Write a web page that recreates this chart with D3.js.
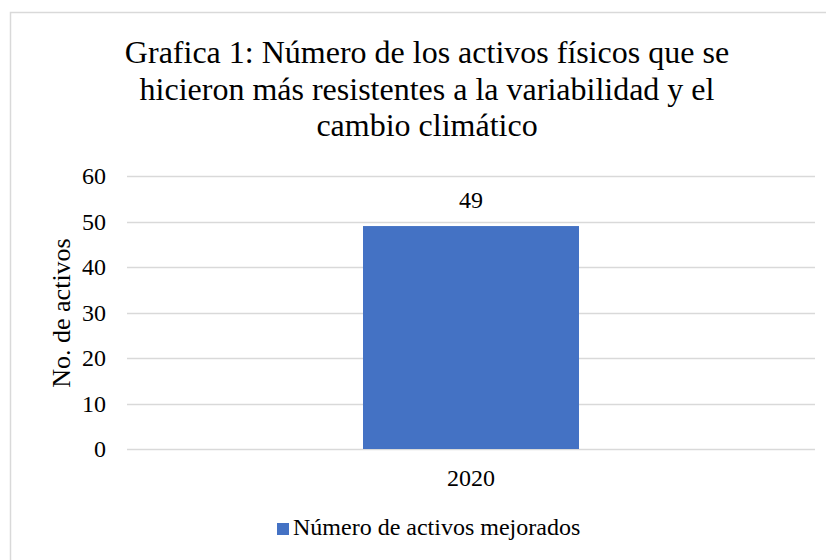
<!DOCTYPE html>
<html><head><meta charset="utf-8">
<script src="https://cdn.jsdelivr.net/npm/d3@7"></script>
<style>
html,body{margin:0;padding:0;background:#fff;}
</style></head>
<body>
<script>
const categories = ["2020"];
const seriesName = "Número de activos mejorados";
const values = [49];
const yTicks = [0, 10, 20, 30, 40, 50, 60];
const titleLines = ["Grafica 1: Número de los activos físicos que se",
  "hicieron más resistentes a la variabilidad y el",
  "cambio climático"];
const yTitle = "No. de activos";

const FONT = "'Liberation Serif', 'Times New Roman', Tinos, 'DejaVu Serif', serif";
const W = 826, H = 560;
const svg = d3.select("body").append("svg").attr("width", W).attr("height", H)
  .attr("font-family", FONT);

// chart border
svg.append("rect").attr("x", 10.5).attr("y", 12.5).attr("width", 830).attr("height", 560)
  .attr("fill", "none").attr("stroke", "#d9d9d9").attr("stroke-width", 1.5);

// title
svg.append("g").selectAll("text").data(titleLines).join("text")
  .attr("x", 427).attr("y", (d, i) => 63 + i * 36.5)
  .attr("text-anchor", "middle").style("font-family", FONT).style("font-size", "32px").text(d => d);

const plot = {left: 127, right: 815, top: 176, bottom: 449};
const x = d3.scaleBand().domain(categories).range([plot.left, plot.right]).paddingInner(0).paddingOuter(0);
const y = d3.scaleLinear().domain([0, 60]).range([plot.bottom, plot.top]);

// gridlines
svg.append("g").selectAll("line").data(yTicks).join("line")
  .attr("x1", plot.left).attr("x2", plot.right)
  .attr("y1", d => Math.round(y(d)) + 0.5).attr("y2", d => Math.round(y(d)) + 0.5)
  .attr("stroke", "#d9d9d9").attr("stroke-width", 1.5);

// y axis labels
const yAxis = d3.axisLeft(y).tickValues(yTicks).tickSize(0).tickPadding(0);
const yg = svg.append("g").attr("transform", `translate(106,0)`).call(yAxis);
yg.attr("font-family", FONT);
yg.select(".domain").remove();
yg.selectAll("text").style("font-family", FONT).style("font-size", "24px").attr("dy", "0.32em").attr("fill", "#000");

// x axis labels
const xAxis = d3.axisBottom(x).tickSize(0).tickPadding(0);
const xg = svg.append("g").attr("transform", `translate(0,${plot.bottom})`).call(xAxis);
xg.attr("font-family", FONT);
xg.select(".domain").remove();
xg.selectAll("text").style("font-family", FONT).style("font-size", "24px").attr("y", 37).attr("dy", 0).attr("fill", "#000");

// bars
const barW = 216;
svg.append("g").selectAll("rect").data(values).join("rect")
  .attr("x", (d, i) => x(categories[i]) + x.bandwidth() / 2 - barW / 2)
  .attr("width", barW)
  .attr("y", d => y(d)).attr("height", d => y(0) - y(d))
  .attr("fill", "#4472c4");

// data labels
svg.append("g").selectAll("text").data(values).join("text")
  .attr("x", (d, i) => x(categories[i]) + x.bandwidth() / 2)
  .attr("y", d => y(d) - 18)
  .attr("text-anchor", "middle").style("font-family", FONT).style("font-size", "24px").text(d => d);

// y axis title
svg.append("text").attr("transform", "translate(70,313) rotate(-90)")
  .attr("text-anchor", "middle").style("font-family", FONT).style("font-size", "26px").text(yTitle);

// legend
const lg = svg.append("g");
lg.append("rect").attr("x", 277).attr("y", 523).attr("width", 12).attr("height", 12).attr("fill", "#4472c4");
lg.append("text").attr("x", 293).attr("y", 535).style("font-family", FONT).style("font-size", "24px").text(seriesName);
</script>
</body></html>
